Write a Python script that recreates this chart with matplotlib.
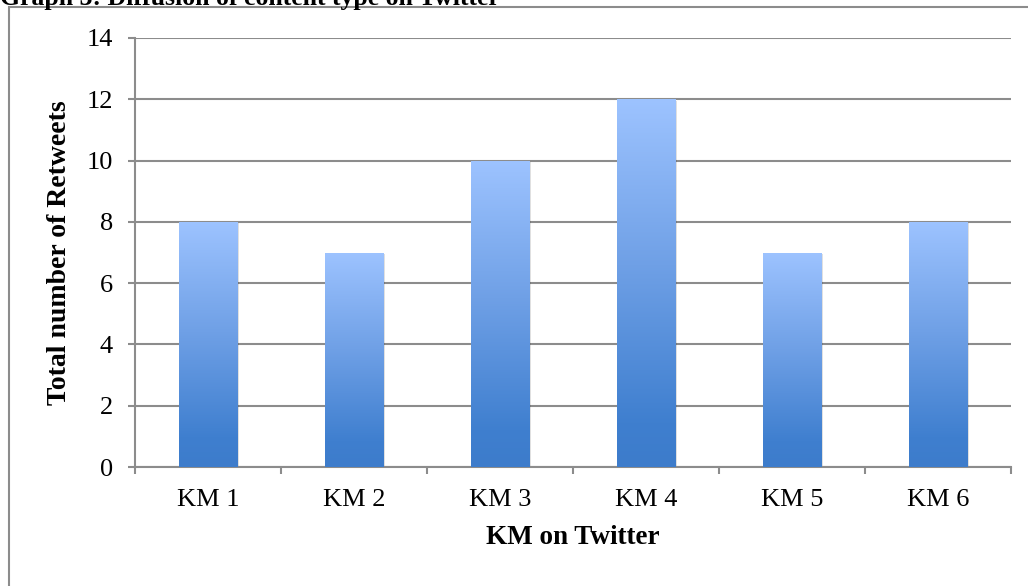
import numpy as np
import matplotlib.pyplot as plt
from matplotlib.colors import LinearSegmentedColormap
from matplotlib.patches import Rectangle

# data
categories = ['KM 1', 'KM 2', 'KM 3', 'KM 4', 'KM 5', 'KM 6']
retweets = [8, 7, 10, 12, 7, 8]
yticks = [0, 2, 4, 6, 8, 10, 12, 14]

title = 'Graph 3: Diffusion of content type on Twitter'
xlabel = 'KM on Twitter'
ylabel = 'Total number of Retweets'

plt.rcParams['font.family'] = ['Liberation Serif', 'DejaVu Serif']

grid_col = '#8c8c8c'
# Excel-like gradient: dark blue at the bottom, light blue at the top
grad = LinearSegmentedColormap.from_list(
    'bar_grad', [(0.0, '#3d7ccb'), (0.12, '#3f7fcf'), (0.55, '#6fa0e6'), (1.0, '#9dc3ff')])

fig = plt.figure(figsize=(10.28, 5.86), dpi=100)
ax = fig.add_axes([135 / 1028, 1 - 467 / 586, 876 / 1028, 429 / 586])

x = np.arange(len(categories))
bar_w = 0.4
bars = ax.bar(x, retweets, width=bar_w, color='none', edgecolor='none', zorder=3)

gradient = np.linspace(0, 1, 256).reshape(-1, 1)
for b in bars:
    x0, w, h = b.get_x(), b.get_width(), b.get_height()
    # faint drop shadow to the right/bottom
    ax.add_patch(Rectangle((x0 + 0.012, -0.04), w, h, color='#000000', alpha=0.12,
                           lw=0, zorder=2))
    im = ax.imshow(gradient, cmap=grad, origin='lower', aspect='auto',
                   extent=[x0, x0 + w, 0, h], zorder=3)
    im.set_clip_path(b)

ax.set_xlim(-0.5, len(categories) - 0.5)
ax.set_ylim(0, 14)
ax.set_yticks(yticks)
ax.set_xticks(x, categories)
ax.set_xticks(np.arange(len(categories) + 1) - 0.5, minor=True)

ax.yaxis.grid(True, color=grid_col, lw=1.5, zorder=1)
ax.set_axisbelow(True)
for side in ['top', 'right']:
    ax.spines[side].set_visible(False)
for side in ['left', 'bottom']:
    ax.spines[side].set_color(grid_col)
    ax.spines[side].set_linewidth(1.5)

ax.tick_params(axis='y', length=5, width=1.5, color=grid_col, pad=11, labelsize=19)
ax.tick_params(axis='x', which='major', length=0, pad=16, labelsize=19)
ax.tick_params(axis='x', which='minor', length=5, width=1.5, color=grid_col)

ax.set_xlabel(xlabel, fontsize=19.5, fontweight='bold', labelpad=10)
ax.set_ylabel(ylabel, fontsize=20, fontweight='bold', labelpad=10)

# outer frame of the chart (only left and top edges visible in the crop)
fig.add_artist(Rectangle((9 / 1028, -0.1), 1.2, 1 - 7 / 586 + 0.1,
                         transform=fig.transFigure, fill=False,
                         edgecolor=grid_col, lw=1.5))
fig.text(0, 1 - 5 / 586, title, fontsize=18.5, fontweight='bold',
         va='baseline', ha='left')

fig.savefig('out.png', dpi=100)
